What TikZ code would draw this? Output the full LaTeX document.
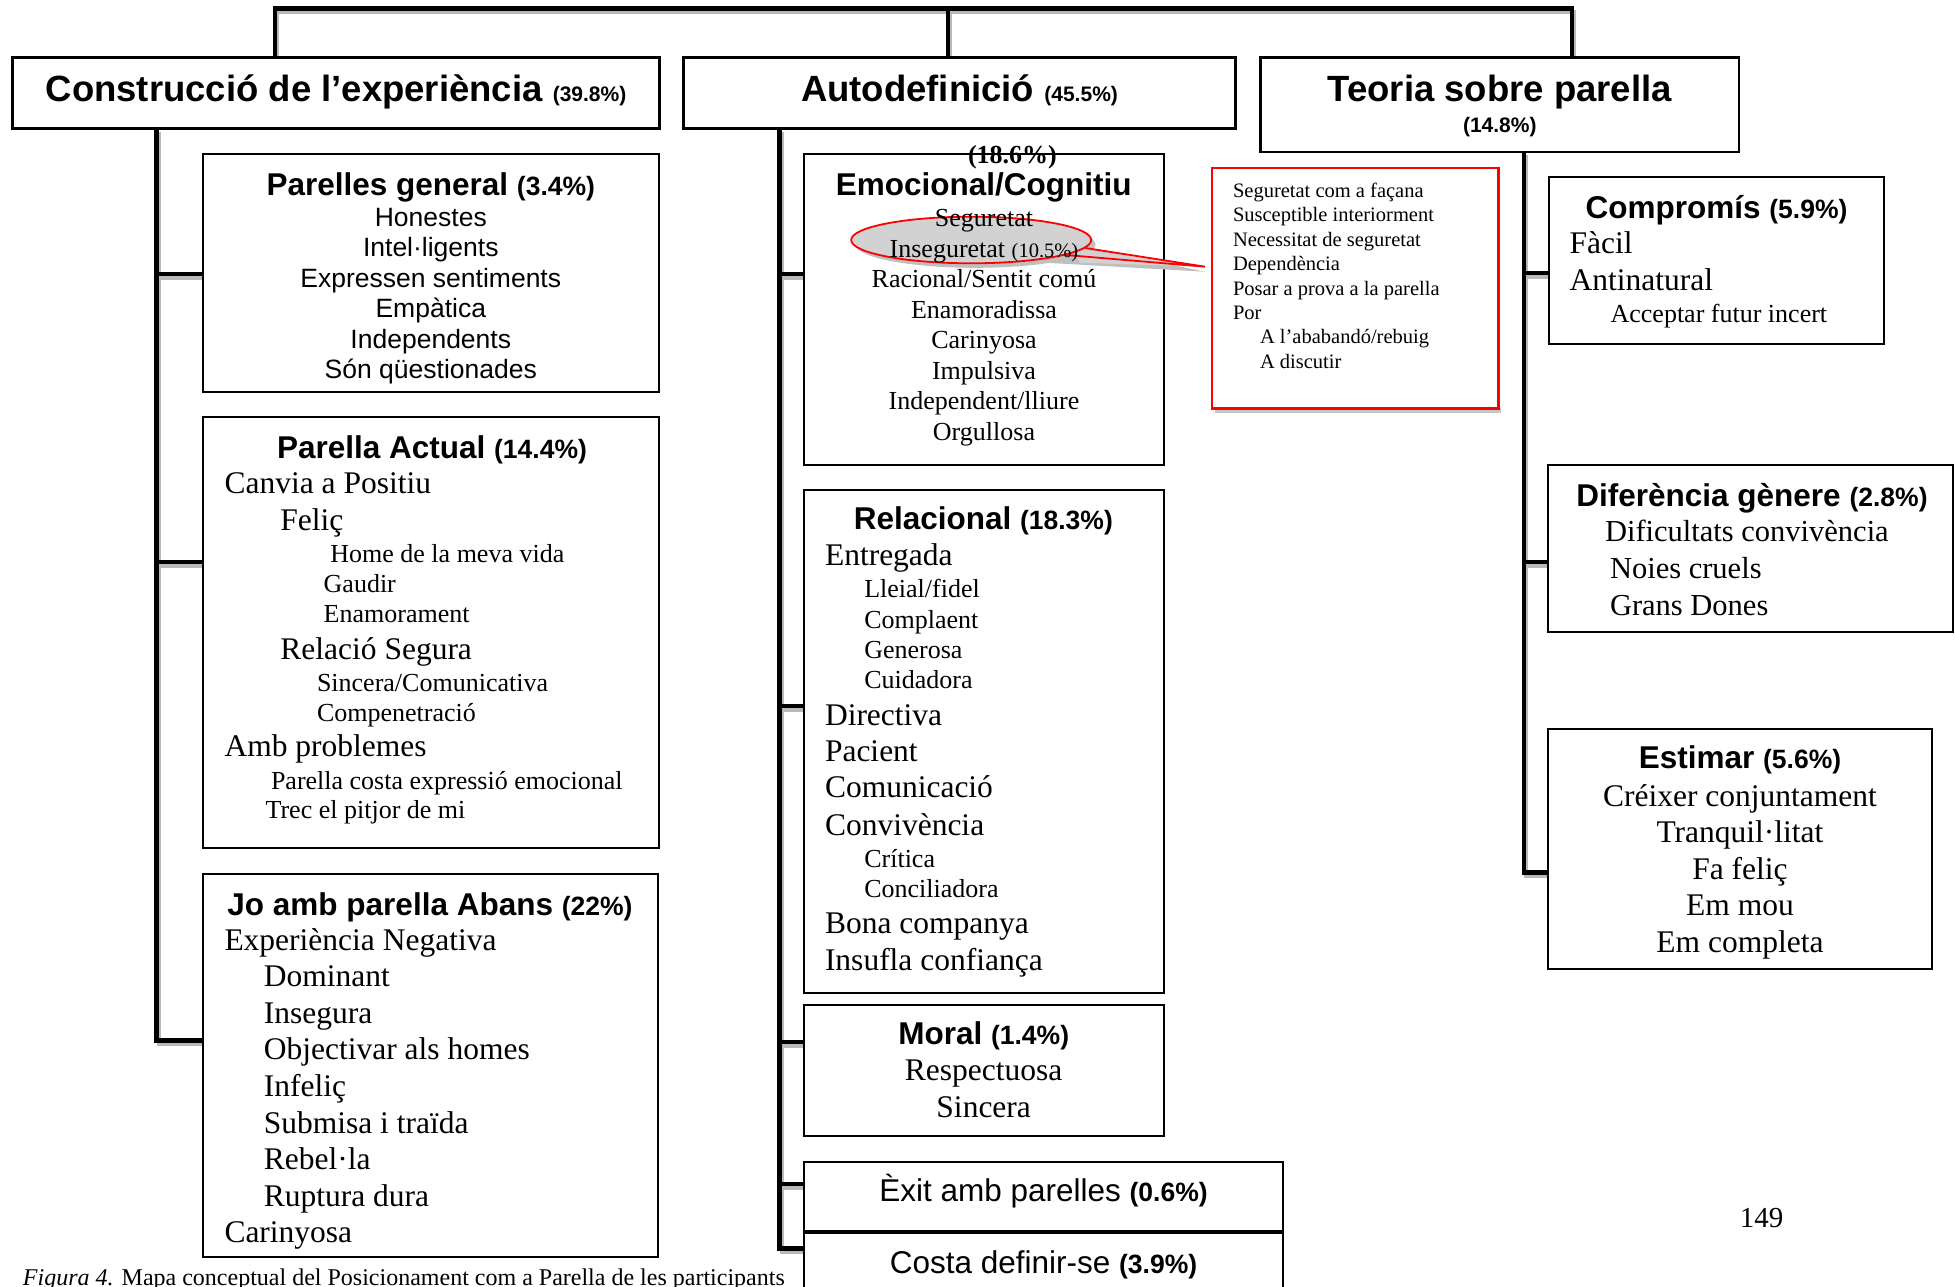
\documentclass[tikz,border=0pt]{standalone}
\usepackage{fontspec}
\setmainfont{Liberation Serif}
\newfontfamily\arialf{Liberation Sans}
\usetikzlibrary{shapes.geometric,backgrounds,calc}
\newcommand\myfs[1]{\fontsize{#1}{#1}\selectfont}
\begin{document}
\begin{tikzpicture}[x=1pt,y=-1pt,
 box/.style={draw, line width=2pt, rectangle, anchor=north west, inner sep=0pt, outer sep=0pt, fill=white},
 bigbox/.style={box, line width=2.6pt},
 redbox/.style={box, draw=red, line width=2.4pt},
 conn/.style={line width=4.8pt, line join=miter, preaction={draw=gray!55, line width=4pt, transform canvas={shift={(2pt,-3.5pt)}}}},
 t/.style={inner sep=0pt, outer sep=0pt, anchor=base},
 tl/.style={inner sep=0pt, outer sep=0pt, anchor=base west},
 head/.style={font=\arialf\bfseries\myfs{36.5}},
 sub/.style={font=\arialf\bfseries\myfs{31.5}},
 sansitem/.style={font=\arialf\myfs{26.5}},
 sansbig/.style={font=\arialf\myfs{31.5}},
 big/.style={font=\myfs{31.5}},
 small/.style={font=\myfs{26}},
 note/.style={font=\myfs{20.5}},
]
\useasboundingbox (0,0) rectangle (1955,1287);

% ---------- boxes ----------
\node[bigbox, minimum width=647.2pt, minimum height=71.2pt] (A) at (12.5,57.3) {};
\node[bigbox, minimum width=552.2pt, minimum height=71.2pt] (B) at (683.3,57.3) {};
\node[bigbox, minimum width=478.2pt, minimum height=94.7pt] (C) at (1260.7,57.3) {};

\node[box, minimum width=455.3pt, minimum height=237.5pt] (A1) at (203.2,154.2) {};
\node[box, minimum width=456pt, minimum height=431pt] (A2) at (203.2,417) {};
\node[box, minimum width=455.1pt, minimum height=383.3pt] (A3) at (203.1,874) {};

\node[box, minimum width=360pt, minimum height=311pt] (B1) at (804,154) {};
\node[box, minimum width=360pt, minimum height=503.4pt] (B2) at (804,489.6) {};
\node[box, minimum width=360pt, minimum height=130.8pt] (B3) at (804,1005) {};
\node[box, minimum width=479pt, minimum height=68.8pt] (B4) at (804,1161.7) {};
\node[box, minimum width=479pt, minimum height=70pt] (B5) at (804,1233.3) {};

\node[box, minimum width=335.7pt, minimum height=167.3pt] (C1) at (1548.6,176.7) {};
\node[box, minimum width=404.7pt, minimum height=166.8pt] (C2) at (1548.3,465) {};
\node[box, minimum width=384.6pt, minimum height=239.3pt] (C3) at (1547.7,729.3) {};

\fill[gray!45] ($(1212,168.3)+(3,240)$) rectangle ($(1212,168.3)+(289,244.5)$);
\node[redbox, minimum width=286.4pt, minimum height=240pt] (R) at (1212,168.3) {};

% ---------- connectors ----------
\begin{scope}[on background layer]
\fill[white] (0,0) rectangle (1955,1287);
\coordinate (busL) at (275,8.5);
\coordinate (busM) at (948,8.5);
\coordinate (busR) at (1572,8.5);
\draw[conn] (A.north -| busL) -- (busL) -- (busR) -- (C.north -| busR);
\draw[conn] (busM) -- (B.north -| busM);

\coordinate (aX) at (156.5,0);
\coordinate (sA1) at (203.2,274);
\coordinate (sA2) at (203.2,562);
\coordinate (sA3) at (203.1,1040.5);
\draw[conn] (A.south -| aX) |- (sA3);
\draw[conn] (aX |- sA1) -- (sA1);
\draw[conn] (aX |- sA2) -- (sA2);

\coordinate (bX) at (779.8,0);
\coordinate (sB1) at (804,274);
\coordinate (sB2) at (804,706);
\coordinate (sB3) at (804,1042);
\coordinate (sB4) at (804,1184);
\coordinate (sB5) at (804,1248.7);
\draw[conn] (B.south -| bX) |- (sB5);
\draw[conn] (bX |- sB1) -- (sB1);
\draw[conn] (bX |- sB2) -- (sB2);
\draw[conn] (bX |- sB3) -- (sB3);
\draw[conn] (bX |- sB4) -- (sB4);

\coordinate (cX) at (1524,0);
\coordinate (sC1) at (1548.6,273);
\coordinate (sC2) at (1548.3,562);
\coordinate (sC3) at (1547.7,872.7);
\draw[conn] (C.south -| cX) |- (sC3);
\draw[conn] (cX |- sC1) -- (sC1);
\draw[conn] (cX |- sC2) -- (sC2);
\end{scope}

% ---------- callout ellipse ----------
\coordinate (tip) at (1205,266.7);
\node[ellipse, fill=gray!50, minimum width=240pt, minimum height=46.6pt, inner sep=0pt] (ellsh) at (975.5,244.5) {};
\fill[gray!50] (ellsh.-2) -- ($(tip)+(0,5)$) -- (ellsh.-14) -- cycle;
\fill[gray!35] (971.2,240) ++(100,8) -- (tip) -- ++(-125,-4) -- cycle;
\node[ellipse, draw=red, line width=1.8pt, fill=gray!35, minimum width=240pt, minimum height=46.6pt, inner sep=0pt] (ell) at (971.2,240) {};
\draw[red, line width=1.8pt] (ell.-4) -- (tip) -- (ell.-9);

% ---------- top titles ----------
\node[t, head] (At) at (336,101.7) {Construcció de l’experiència {\myfs{21}(39.8\%)}};
\node[t, head] (Bt) at (959.5,101.7) {Autodefinició {\myfs{21}(45.5\%)}};
\node[t, head] (Ct) at (1499.8,101.7) {Teoria sobre parella};
\node[t, font=\arialf\bfseries\myfs{21}] (Cp) at (1499.8,132.7) {(14.8\%)};

% ---------- A1 ----------
\node[t, sub] (A1t) at (430.8,195) {Parelles general {\myfs{26.5}(3.4\%)}};
\node[t, sansitem] (A1a) at (430.8,226.5) {Honestes};
\node[t, sansitem] (A1b) at (430.8,256.9) {Intel·ligents};
\node[t, sansitem] (A1c) at (430.8,287.3) {Expressen sentiments};
\node[t, sansitem] (A1d) at (430.8,317.7) {Empàtica};
\node[t, sansitem] (A1e) at (430.8,348.1) {Independents};
\node[t, sansitem] (A1f) at (430.8,378.5) {Són qüestionades};

% ---------- A2 ----------
\node[t, sub] (A2t) at (432,458.3) {Parella Actual {\myfs{26.5}(14.4\%)}};
\node[tl, big] (A2a) at (224.6,493.3) {Canvia a Positiu};
\node[tl, big] (A2b) at (280.4,530) {Feliç};
\node[tl, small] (A2c) at (330.4,562.3) {Home de la meva vida};
\node[tl, small] (A2d) at (323.7,592.7) {Gaudir};
\node[tl, small] (A2e) at (323.7,622.7) {Enamorament};
\node[tl, big] (A2f) at (280.4,659.3) {Relació Segura};
\node[tl, small] (A2g) at (317,691.7) {Sincera/Comunicativa};
\node[tl, small] (A2h) at (317,721.7) {Compenetració};
\node[tl, big] (A2i) at (224.6,756.7) {Amb problemes};
\node[tl, small] (A2j) at (271,789.3) {Parella costa expressió emocional};
\node[tl, small] (A2k) at (265.6,818.3) {Trec el pitjor de mi};

% ---------- A3 ----------
\node[t, sub] (A3t) at (430,915) {Jo amb parella Abans {\myfs{26.5}(22\%)}};
\node[tl, big] (A3a) at (224.5,950) {Experiència Negativa};
\node[tl, big] (A3b) at (263.8,986.6) {Dominant};
\node[tl, big] (A3c) at (263.8,1023.2) {Insegura};
\node[tl, big] (A3d) at (263.8,1059.8) {Objectivar als homes};
\node[tl, big] (A3e) at (263.8,1096.4) {Infeliç};
\node[tl, big] (A3f) at (263.8,1133) {Submisa i traïda};
\node[tl, big] (A3g) at (263.8,1169.6) {Rebel·la};
\node[tl, big] (A3h) at (263.8,1206.2) {Ruptura dura};
\node[tl, big] (A3i) at (224.5,1242.8) {Carinyosa};

% ---------- B1 ----------
\node[t, font=\bfseries\myfs{26}] (B1p) at (1012.4,163.3) {(18.6\%)};
\node[t, sub] (B1t) at (983.7,195) {Emocional/Cognitiu};
\node[t, small] (B1a) at (984,226.6) {Seguretat};
\node[t, small] (B1b) at (984,257.1) {Inseguretat {\myfs{20.5}(10.5\%)}};
\node[t, small] (B1c) at (984,287.6) {Racional/Sentit comú};
\node[t, small] (B1d) at (984,318.1) {Enamoradissa};
\node[t, small] (B1e) at (984,348.6) {Carinyosa};
\node[t, small] (B1f) at (984,379.1) {Impulsiva};
\node[t, small] (B1g) at (984,409.6) {Independent/lliure};
\node[t, small] (B1h) at (984,440.1) {Orgullosa};

% ---------- B2 ----------
\node[t, sub] (B2t) at (983.3,529) {Relacional {\myfs{26.5}(18.3\%)}};
\node[tl, big] (B2a) at (825,565.7) {Entregada};
\node[tl, small] (B2b) at (864.3,597.1) {Lleial/fidel};
\node[tl, small] (B2c) at (864.3,628.2) {Complaent};
\node[tl, small] (B2d) at (864.3,658.6) {Generosa};
\node[tl, small] (B2e) at (864.3,688.6) {Cuidadora};
\node[tl, big] (B2f) at (825,725.4) {Directiva};
\node[tl, big] (B2g) at (825,761.8) {Pacient};
\node[tl, big] (B2h) at (825,797.9) {Comunicació};
\node[tl, big] (B2i) at (825,835) {Convivència};
\node[tl, small] (B2j) at (864.3,867.1) {Crítica};
\node[tl, small] (B2k) at (864.3,897.1) {Conciliadora};
\node[tl, big] (B2l) at (825,933.6) {Bona companya};
\node[tl, big] (B2m) at (825,970) {Insufla confiança};

% ---------- B3 / B4 / B5 ----------
\node[t, sub] (B3t) at (983.7,1044.5) {Moral {\myfs{26.5}(1.4\%)}};
\node[t, big] (B3a) at (983.7,1080.7) {Respectuosa};
\node[t, big] (B3b) at (983.7,1117) {Sincera};
\node[t, sansbig] (B4t) at (1043.5,1201.7) {Èxit amb parelles {\bfseries\myfs{26.5}(0.6\%)}};
\node[t, sansbig] (B5t) at (1043.5,1273.3) {Costa definir-se {\bfseries\myfs{26.5}(3.9\%)}};

% ---------- red note ----------
\node[tl, note] (Ra) at (1233,197.5) {Seguretat com a façana};
\node[tl, note] (Rb) at (1233,221.9) {Susceptible interiorment};
\node[tl, note] (Rc) at (1233,246.3) {Necessitat de seguretat};
\node[tl, note] (Rd) at (1233,270.7) {Dependència};
\node[tl, note] (Re) at (1233,295.1) {Posar a prova a la parella};
\node[tl, note] (Rf) at (1233,319.5) {Por};
\node[tl, note] (Rg) at (1260,343.9) {A l’ababandó/rebuig};
\node[tl, note] (Rh) at (1260,368.3) {A discutir};

% ---------- C1 ----------
\node[t, sub] (C1t) at (1716.5,218.3) {Compromís {\myfs{26.5}(5.9\%)}};
\node[tl, big] (C1a) at (1569.6,253.3) {Fàcil};
\node[tl, big] (C1b) at (1569.6,290.7) {Antinatural};
\node[tl, small] (C1c) at (1610.6,322.7) {Acceptar futur incert};

% ---------- C2 ----------
\node[t, sub] (C2t) at (1752,506) {Diferència gènere {\myfs{26.5}(2.8\%)}};
\node[tl, font=\myfs{30.5}] (C2a) at (1605,541.8) {Dificultats convivència};
\node[tl, font=\myfs{30.5}] (C2b) at (1610,578.6) {Noies cruels};
\node[tl, font=\myfs{30.5}] (C2c) at (1610,615.7) {Grans Dones};

% ---------- C3 ----------
\node[t, sub] (C3t) at (1740,768.6) {Estimar {\myfs{26.5}(5.6\%)}};
\node[t, big] (C3a) at (1740,806) {Créixer conjuntament};
\node[t, big] (C3b) at (1740,842.6) {Tranquil·litat};
\node[t, big] (C3c) at (1740,879.2) {Fa feliç};
\node[t, big] (C3d) at (1740,915.8) {Em mou};
\node[t, big] (C3e) at (1740,952.4) {Em completa};

% ---------- page number & caption ----------
\node[t, font=\myfs{29}] (pg) at (1761.7,1227) {149};
\node[tl, font=\myfs{24}] (cap) at (23,1285) {\textit{Figura 4.} Mapa conceptual del Posicionament com a Parella de les participants};
\end{tikzpicture}
\end{document}
